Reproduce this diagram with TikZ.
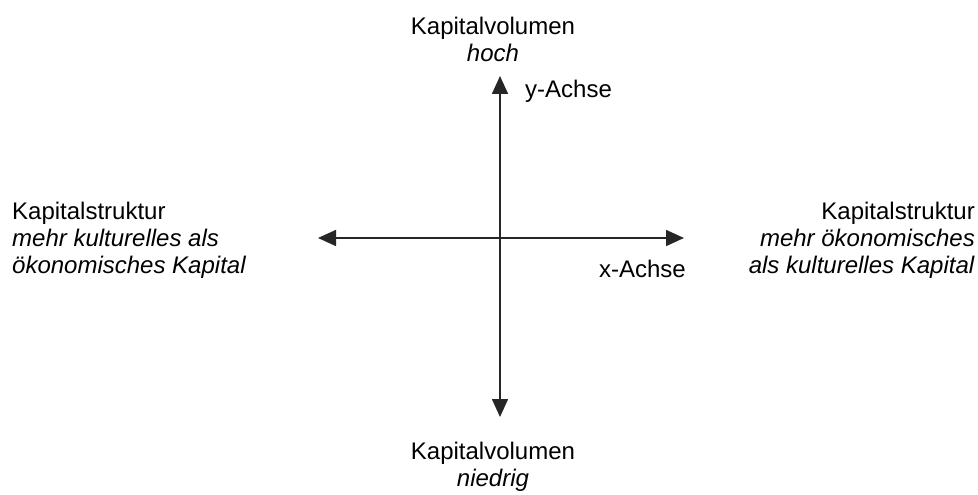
\documentclass[tikz,border=0pt]{standalone}
\usepackage{fontspec}
\setmainfont{Liberation Sans}
\usetikzlibrary{arrows.meta,positioning}

\begin{document}
\begin{tikzpicture}[
  x=1pt, y=-1pt,
  lbl/.style={inner sep=0pt, font=\fontsize{24}{27}\selectfont},
  axis/.style={{Triangle[length=18pt,width=16pt]}-{Triangle[length=18pt,width=16pt]}, line width=1.6pt, black!85}
]
  \useasboundingbox (0,0) rectangle (978,495);

  % axis ends
  \coordinate (ytop) at (500,76);
  \coordinate (ybot) at (500,417);
  \coordinate (xleft) at (318,238);
  \coordinate (xright) at (684,238);

  \draw[axis] (ybot) -- (ytop);
  \draw[axis] (xleft) -- (xright);

  % labels
  \node[lbl, align=center, anchor=north] (volhigh) at (493,17) {Kapitalvolumen\\\textit{hoch}};
  \node[lbl, align=center, anchor=north] (vollow) at (493,442) {Kapitalvolumen\\\textit{niedrig}};
  \node[lbl, align=left, anchor=north west] (strucleft) at (12,202) {Kapitalstruktur\\\textit{mehr kulturelles als}\\\textit{ökonomisches Kapital}};
  \node[lbl, align=right, anchor=north east] (strucright) at (975,202) {Kapitalstruktur\\\textit{mehr ökonomisches}\\\textit{als kulturelles Kapital}};
  \node[lbl, anchor=north west] (yname) at (525,80) {y-Achse};
  \node[lbl, anchor=north east] (xname) at (686,260) {x-Achse};
\end{tikzpicture}
\end{document}
